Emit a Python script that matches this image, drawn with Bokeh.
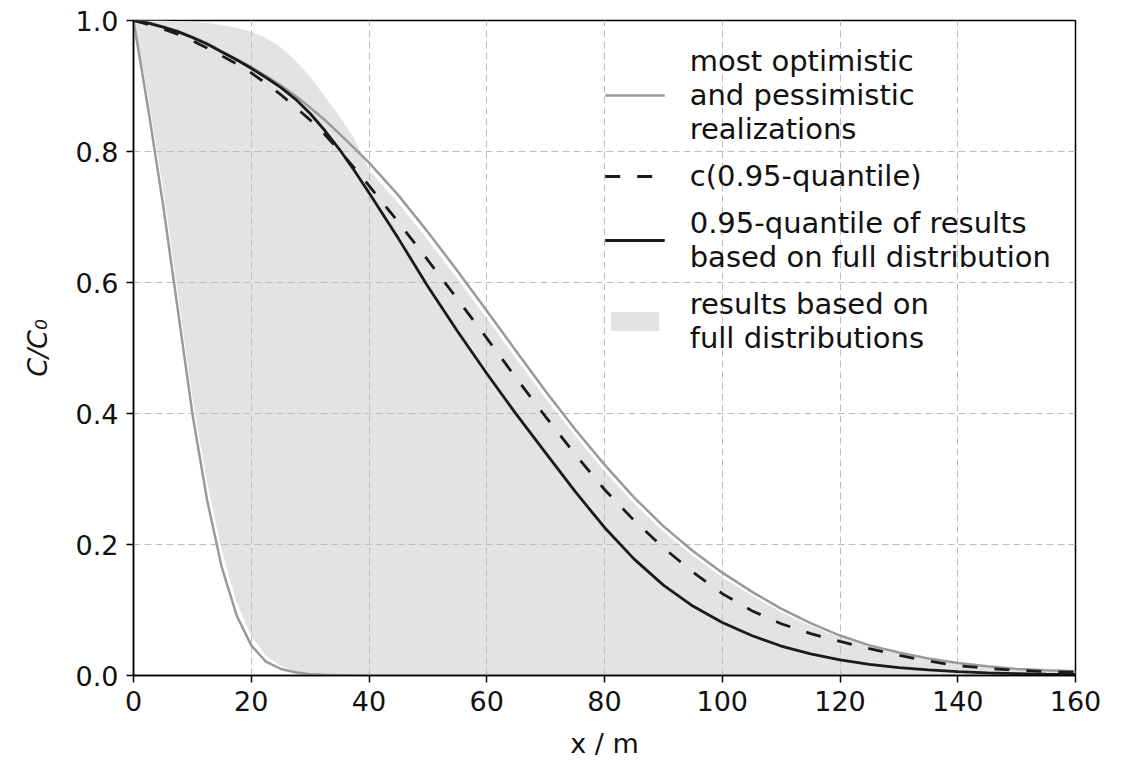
from bokeh.plotting import figure
from bokeh.models import Legend, LegendItem, Range1d, FixedTicker, PrintfTickFormatter
from bokeh.embed import file_html
from bokeh.resources import INLINE

# distance along flow path x / m
x = [0, 2.5, 5, 7.5, 10, 12.5, 15, 17.5, 20, 22.5, 25, 27.5, 30, 32.5, 35, 37.5, 40,
     45, 50, 55, 60, 65, 70, 75, 80, 85, 90, 95, 100, 105, 110, 115, 120, 125, 130,
     135, 140, 145, 150, 155, 160]

# most optimistic realization
optimistic = [1.0, 0.997, 0.991, 0.984, 0.975, 0.965, 0.953, 0.941, 0.929, 0.915, 0.901,
              0.885, 0.867, 0.848, 0.827, 0.805, 0.783,
              0.733, 0.677, 0.618, 0.557, 0.495, 0.434, 0.376, 0.322, 0.272, 0.228,
              0.190, 0.157, 0.128, 0.102, 0.080, 0.061, 0.046, 0.035, 0.026, 0.019,
              0.014, 0.010, 0.008, 0.0065]

# most pessimistic realization
pessimistic = [1.0, 0.865, 0.72, 0.56, 0.40, 0.268, 0.165, 0.092, 0.046, 0.021, 0.010,
               0.005, 0.002, 0.001, 0.0005, 0.0002, 0.0001,
               0, 0, 0, 0, 0, 0, 0, 0, 0, 0, 0, 0, 0, 0, 0, 0, 0, 0, 0, 0, 0, 0, 0, 0]

# c(0.95-quantile)
c_q95 = [1.0, 0.994, 0.987, 0.979, 0.969, 0.958, 0.946, 0.934, 0.920, 0.904, 0.887,
         0.868, 0.848, 0.826, 0.801, 0.775, 0.748,
         0.692, 0.634, 0.575, 0.515, 0.454, 0.395, 0.338, 0.284, 0.237, 0.195, 0.158,
         0.125, 0.099, 0.079, 0.064, 0.052, 0.041, 0.031, 0.022, 0.015, 0.011, 0.008,
         0.006, 0.005]

# 0.95-quantile of results based on full distribution
q95_full = [1.0, 0.996, 0.990, 0.983, 0.974, 0.964, 0.952, 0.940, 0.927, 0.913, 0.898,
            0.880, 0.858, 0.832, 0.803, 0.771, 0.737,
            0.667, 0.594, 0.526, 0.461, 0.399, 0.340, 0.281, 0.226, 0.178, 0.138, 0.106,
            0.081, 0.061, 0.045, 0.033, 0.024, 0.017, 0.012, 0.0085, 0.006, 0.004,
            0.003, 0.002, 0.0015]

# envelope of results based on full distributions
band_upper = [1.0, 1.0, 1.0, 0.999, 0.998, 0.996, 0.993, 0.989, 0.983, 0.973, 0.959,
              0.939, 0.914, 0.884, 0.853, 0.820, 0.772,
              0.721, 0.665, 0.606, 0.545, 0.484, 0.423, 0.366, 0.312, 0.263, 0.220,
              0.183, 0.150, 0.122, 0.097, 0.076, 0.058, 0.044, 0.033, 0.024, 0.017,
              0.013, 0.009, 0.007, 0.006]
band_lower = [1.0, 0.885, 0.745, 0.585, 0.425, 0.295, 0.19, 0.112, 0.060, 0.030, 0.015,
              0.007, 0.003, 0.0015, 0.0008, 0.0004, 0.0002,
              0, 0, 0, 0, 0, 0, 0, 0, 0, 0, 0, 0, 0, 0, 0, 0, 0, 0, 0, 0, 0, 0, 0, 0]

x_ticks = [0, 20, 40, 60, 80, 100, 120, 140, 160]
y_ticks = [0.0, 0.2, 0.4, 0.6, 0.8, 1.0]

FONT = "DejaVu Sans"
FS = "27px"

p = figure(width=1128, height=764, output_backend="svg", toolbar_location=None,
           x_range=Range1d(0, 160), y_range=Range1d(0, 1),
           min_border_left=133, min_border_right=53, min_border_top=20,
           min_border_bottom=89)

band = p.varea(x=x, y1=band_lower, y2=band_upper, fill_color="#e3e3e3", level="image")
opt = p.line(x, optimistic, line_color="#9a9a9a", line_width=2.5)
pes = p.line(x, pessimistic, line_color="#9a9a9a", line_width=2.5)
full = p.line(x, q95_full, line_color="#1a1a1a", line_width=2.8)
cq = p.line(x, c_q95, line_color="#1a1a1a", line_width=2.8, line_dash="15 17")

p.outline_line_color = "black"
p.outline_line_width = 1.5
p.outline_line_alpha = 1.0

for ax in (p.xaxis[0], p.yaxis[0]):
    ax.axis_line_color = "black"
    ax.axis_line_width = 1.5
    ax.major_tick_line_color = "black"
    ax.major_tick_line_width = 1.5
    ax.major_tick_out = 7
    ax.major_tick_in = 0
    ax.minor_tick_out = 0
    ax.minor_tick_in = 0
    ax.major_label_text_font = FONT
    ax.major_label_text_font_size = FS
    ax.major_label_text_color = "#111111"
    ax.axis_label_text_font = FONT
    ax.axis_label_text_font_size = FS
    ax.axis_label_text_color = "#111111"
    ax.major_label_standoff = 8

p.xaxis.ticker = FixedTicker(ticks=x_ticks)
p.yaxis.ticker = FixedTicker(ticks=y_ticks)
p.yaxis.formatter = PrintfTickFormatter(format="%.1f")
p.xaxis.axis_label = "x / m"
p.xaxis.axis_label_text_font_style = "normal"
p.xaxis.axis_label_standoff = 14
p.yaxis.axis_label = "C/C\u2080"
p.yaxis.axis_label_text_font_style = "italic"
p.yaxis.axis_label_standoff = 20

for g in (p.xgrid[0], p.ygrid[0]):
    g.grid_line_color = "#bdbdbd"
    g.grid_line_dash = "7 4"
    g.grid_line_width = 1

legend = Legend(items=[
    LegendItem(label="most optimistic\nand pessimistic\nrealizations", renderers=[opt]),
    LegendItem(label="c(0.95-quantile)", renderers=[cq]),
    LegendItem(label="0.95-quantile of results\nbased on full distribution", renderers=[full]),
    LegendItem(label="results based on\nfull distributions", renderers=[band]),
], location="top_right")
legend.border_line_alpha = 0
legend.background_fill_alpha = 0
legend.label_text_font = FONT
legend.label_text_font_size = "29px"
legend.label_text_color = "#111111"
legend.label_text_line_height = 1.25
legend.glyph_width = 60
legend.glyph_height = 24
legend.label_standoff = 25
legend.spacing = 13
legend.padding = 14
legend.margin = 10
p.add_layout(legend)

open("out.html", "w").write(file_html(p, INLINE))
